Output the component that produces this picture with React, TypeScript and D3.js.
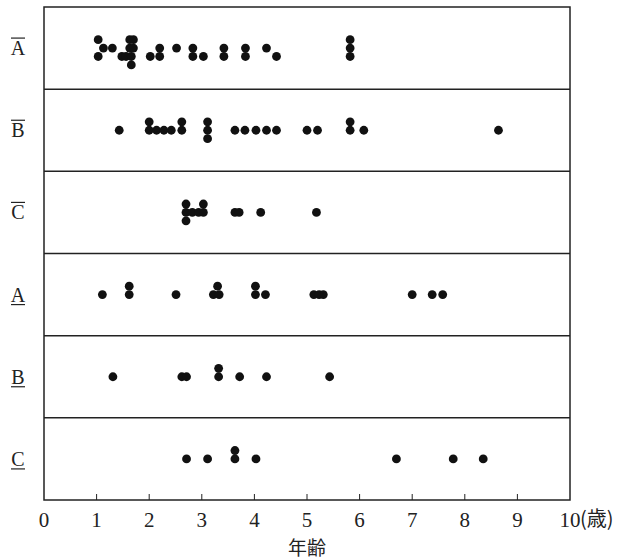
import * as d3 from "d3";

// group names (rows), top to bottom
const groups = ["Abar", "Bbar", "Cbar", "A", "B", "C"];
const groupLetters = ["A", "B", "C", "A", "B", "C"];
const groupMarks = ["over", "over", "over", "under", "under", "under"];

// each point: [age, stack level] (0 = row middle, +1 one dot up, -1 one dot down)
const ptsAbar = [
  [1.03, 1], [1.03, -1], [1.13, 0], [1.3, 0], [1.48, -1], [1.56, -1],
  [1.63, 1], [1.7, 1], [1.63, 0], [1.7, 0], [1.66, -1], [1.66, -2],
  [2.02, -1], [2.2, 0], [2.2, -1], [2.52, 0], [2.83, 0], [2.83, -1],
  [3.03, -1], [3.42, 0], [3.42, -1], [3.83, 0], [3.83, -1], [4.23, 0],
  [4.42, -1], [5.82, 1], [5.82, 0], [5.82, -1],
];
const ptsBbar = [
  [1.43, 0], [2.0, 1], [2.0, 0], [2.14, 0], [2.28, 0], [2.42, 0],
  [2.62, 1], [2.62, 0], [3.11, 1], [3.11, 0], [3.11, -1],
  [3.63, 0], [3.82, 0], [4.03, 0], [4.23, 0], [4.42, 0],
  [5.0, 0], [5.2, 0], [5.82, 1], [5.82, 0], [6.08, 0], [8.64, 0],
];
const ptsCbar = [
  [2.7, 1], [2.7, 0], [2.7, -1], [2.82, 0], [2.94, 0], [3.03, 1], [3.03, 0],
  [3.63, 0], [3.71, 0], [4.12, 0], [5.18, 0],
];
const ptsA = [
  [1.11, 0], [1.62, 1], [1.62, 0], [2.51, 0], [3.22, 0], [3.3, 1], [3.33, 0],
  [4.02, 1], [4.02, 0], [4.21, 0], [5.13, 0], [5.23, 0], [5.31, 0],
  [7.0, 0], [7.38, 0], [7.58, 0],
];
const ptsB = [
  [1.31, 0], [2.62, 0], [2.71, 0], [3.32, 1], [3.32, 0], [3.72, 0],
  [4.23, 0], [5.43, 0],
];
const ptsC = [
  [2.71, 0], [3.11, 0], [3.63, 1], [3.63, 0], [4.03, 0], [6.7, 0],
  [7.78, 0], [8.35, 0],
];
const allPoints = [ptsAbar, ptsBbar, ptsCbar, ptsA, ptsB, ptsC];

const xTicks = [0, 1, 2, 3, 4, 5, 6, 7, 8, 9, 10];

const W = 622;
const H = 559;
const left = 44;
const right = 570;
const top = 7;
const bottom = 500;
const dotR = 4.4;
const step = 8.4;

const serif = "'Liberation Serif', 'DejaVu Serif', serif";
const cjk = "'Noto Sans CJK JP', 'Noto Sans CJK SC', sans-serif";

export default function App() {
  const x = d3.scaleLinear().domain([0, 10]).range([left, right]);
  const y = d3.scaleBand().domain(groups).range([top, bottom]).padding(0);
  const bw = y.bandwidth();

  return (
    <svg
      width={W}
      height={H}
      style={{ position: "absolute", left: 0, top: 0, background: "#fff" }}
    >
      {/* rows */}
      {groups.map((g, i) => {
        const cy = y(g) + bw / 2;
        return (
          <g key={g}>
            {i > 0 && (
              <line x1={left} x2={right} y1={y(g)} y2={y(g)} stroke="#222" strokeWidth={1.5} />
            )}
            <text
              x={18}
              y={cy + 7}
              textAnchor="middle"
              fontFamily={serif}
              fontSize={20}
              fill="#222"
            >
              {groupLetters[i]}
            </text>
            {groupMarks[i] === "over" ? (
              <line x1={11} x2={25} y1={cy - 10} y2={cy - 10} stroke="#222" strokeWidth={1.2} />
            ) : (
              <line x1={11} x2={25} y1={cy + 10} y2={cy + 10} stroke="#222" strokeWidth={1.2} />
            )}
            {allPoints[i].map((p, j) => (
              <circle
                key={j}
                cx={x(p[0])}
                cy={cy - p[1] * step}
                r={dotR}
                fill="#111"
              />
            ))}
          </g>
        );
      })}

      {/* frame */}
      <rect
        x={left}
        y={top}
        width={right - left}
        height={bottom - top}
        fill="none"
        stroke="#222"
        strokeWidth={1.5}
      />

      {/* x axis */}
      {xTicks.map((t) => (
        <g key={t}>
          {t > 0 && t < 10 && (
            <line x1={x(t)} x2={x(t)} y1={bottom} y2={bottom - 6} stroke="#222" strokeWidth={1} />
          )}
          <text
            x={x(t)}
            y={527}
            textAnchor="middle"
            fontFamily={serif}
            fontSize={21}
            fill="#222"
          >
            {t}
          </text>
        </g>
      ))}
      <text x={580} y={526} fontFamily={cjk} fontSize={20} fill="#222">
        (歳)
      </text>
      <text
        x={x(5)}
        y={555}
        textAnchor="middle"
        fontFamily={cjk}
        fontSize={19}
        fill="#222"
      >
        年齢
      </text>
    </svg>
  );
}
